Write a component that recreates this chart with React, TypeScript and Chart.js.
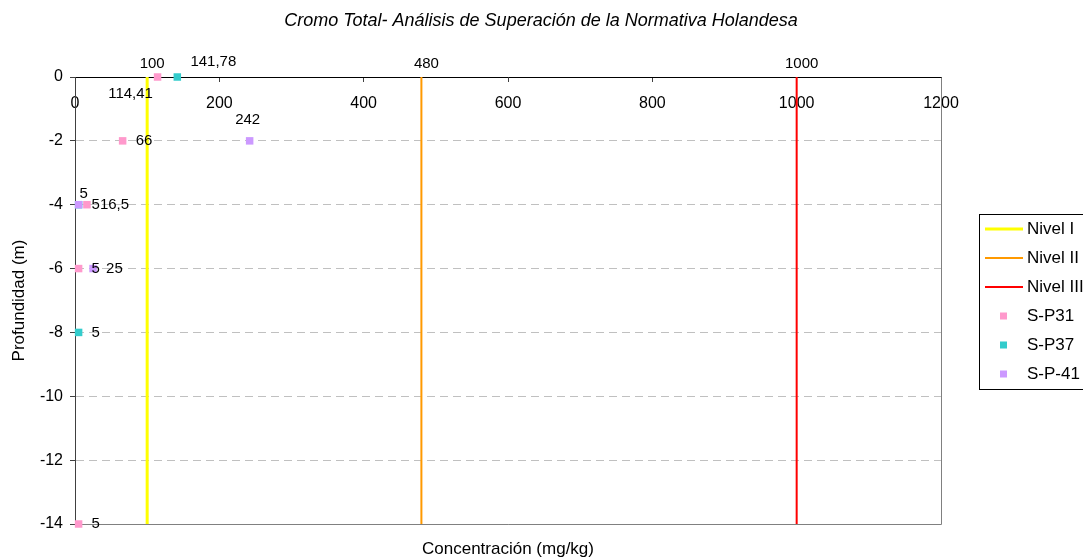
import React, { useEffect, useRef } from 'react';
import { Chart, registerables } from 'chart.js';

Chart.register(...registerables);

const FONT = '"Liberation Sans", Arial, Helvetica, sans-serif';

const chartTitle = 'Cromo Total- Análisis de Superación de la Normativa Holandesa';
const xAxisTitle = 'Concentración (mg/kg)';
const yAxisTitle = 'Profundidad (m)';

const xMin = 0;
const xMax = 1200;
const xStep = 200;
const yMin = -14;
const yMax = 0;
const yStep = 2;

// Normative levels (vertical lines)
const levelNames = ['Nivel I', 'Nivel II', 'Nivel III'];
const levelValues = [100, 480, 1000];
const levelColors = ['#ffff00', '#ff9900', '#ff0000'];
const levelWidths = [3, 2, 2];

// Samples
const sp31Conc = [114.41, 66, 16.5, 5, 5];
const sp31Depth = [0, -2, -4, -6, -14];
const sp37Conc = [141.78, 5, 5];
const sp37Depth = [0, -4, -8];
const sp41Conc = [242, 5, 25];
const sp41Depth = [-2, -4, -6];

const sampleNames = ['S-P31', 'S-P37', 'S-P-41'];
const sampleColors = ['#ff99cc', '#33cccc', '#cc99ff'];

// label placements (style only)
const sp31Place = ['belowLeft', 'right', 'right', 'right', 'right'];
const sp37Place = ['aboveRight', 'right', 'right'];
const sp41Place = ['above', 'aboveNear', 'right'];

const PLACES: Record<string, { align: CanvasTextAlign; dx: number; dy: number }> = {
  right: { align: 'left', dx: 13, dy: 0 },
  above: { align: 'center', dx: -2, dy: -21 },
  aboveNear: { align: 'center', dx: 5, dy: -11 },
  aboveRight: { align: 'center', dx: 36, dy: -15 },
  belowLeft: { align: 'center', dx: -27, dy: 17 },
  top: { align: 'center', dx: 5, dy: -13 },
};

const fmt = (v: number) => String(v).replace('.', ',');

const labelPlugin = {
  id: 'pointLabels',
  afterDatasetsDraw(chart: any) {
    const ctx = chart.ctx;
    ctx.save();
    ctx.font = `15px ${FONT}`;
    ctx.fillStyle = '#000';
    ctx.textBaseline = 'middle';
    chart.data.datasets.forEach((ds: any, i: number) => {
      const meta = chart.getDatasetMeta(i);
      if (!ds.labelPlaces) return;
      meta.data.forEach((el: any, j: number) => {
        const place = ds.labelPlaces[j];
        if (!place) return;
        const p = PLACES[place];
        ctx.textAlign = p.align;
        ctx.fillText(fmt(ds.data[j].x), el.x + p.dx, el.y + p.dy);
      });
    });
    ctx.restore();
  },
};

const framePlugin = {
  id: 'frameAndText',
  beforeDatasetsDraw(chart: any) {
    const { ctx, chartArea: a } = chart;
    ctx.save();
    ctx.strokeStyle = '#808080';
    ctx.lineWidth = 1;
    ctx.beginPath();
    ctx.moveTo(Math.round(a.left) + 0.5, Math.round(a.bottom) + 0.5);
    ctx.lineTo(Math.round(a.right) + 0.5, Math.round(a.bottom) + 0.5);
    ctx.lineTo(Math.round(a.right) + 0.5, Math.round(a.top) + 0.5);
    ctx.stroke();
    ctx.restore();
  },
  afterDraw(chart: any) {
    const { ctx, chartArea: a } = chart;
    ctx.save();
    ctx.fillStyle = '#000';
    // title
    ctx.font = `italic 18px ${FONT}`;
    ctx.textAlign = 'center';
    ctx.textBaseline = 'middle';
    ctx.fillText(chartTitle, 541, 21);
    // x title
    ctx.font = `17px ${FONT}`;
    ctx.fillText(xAxisTitle, (a.left + a.right) / 2, 549);
    // y title
    ctx.save();
    ctx.translate(19, (a.top + a.bottom) / 2);
    ctx.rotate(-Math.PI / 2);
    ctx.fillText(yAxisTitle, 0, 0);
    ctx.restore();
    // legend
    const lx = 979.5;
    const ly = 214.5;
    ctx.strokeStyle = '#000';
    ctx.lineWidth = 1;
    ctx.strokeRect(lx, ly, 130, 175);
    ctx.font = `17px ${FONT}`;
    ctx.textAlign = 'left';
    chart.data.datasets.forEach((ds: any, i: number) => {
      const y = 229 + i * 29;
      if (ds.showLine) {
        ctx.strokeStyle = ds.borderColor;
        ctx.lineWidth = ds.borderWidth;
        ctx.beginPath();
        ctx.moveTo(985, y);
        ctx.lineTo(1023, y);
        ctx.stroke();
      } else {
        ctx.fillStyle = ds.backgroundColor;
        ctx.fillRect(1000, y - 3.5, 7, 7);
      }
      ctx.fillStyle = '#000';
      ctx.fillText(ds.label, 1027, y);
    });
    ctx.restore();
  },
};

const toPoints = (xs: number[], ys: number[]) => xs.map((x, i) => ({ x, y: ys[i] }));

export default function App() {
  const ref = useRef<HTMLCanvasElement | null>(null);

  useEffect(() => {
    if (!ref.current) return;
    const levelSets = levelNames.map((name, i) => ({
      label: name,
      data: [
        { x: levelValues[i], y: yMax },
        { x: levelValues[i], y: yMin },
      ],
      showLine: true,
      borderColor: levelColors[i],
      backgroundColor: levelColors[i],
      borderWidth: levelWidths[i],
      pointRadius: 0,
      labelPlaces: ['top', null],
      order: 5 - i,
      clip: false,
    }));
    const samples = [
      [sp31Conc, sp31Depth, sp31Place],
      [sp37Conc, sp37Depth, sp37Place],
      [sp41Conc, sp41Depth, sp41Place],
    ].map(([xs, ys, pl], i) => ({
      label: sampleNames[i],
      data: toPoints(xs as number[], ys as number[]),
      showLine: false,
      backgroundColor: sampleColors[i],
      borderColor: sampleColors[i],
      borderWidth: 0,
      pointStyle: 'rect',
      pointRadius: 5.3,
      pointHoverRadius: 5.3,
      labelPlaces: pl,
      order: 2 - i,
      clip: false,
    }));

    const chart = new Chart(ref.current, {
      type: 'scatter',
      data: { datasets: [...levelSets, ...samples] as any },
      options: {
        responsive: false,
        animation: false,
        events: [],
        layout: { padding: { left: 15, top: 77, right: 142, bottom: 36 } },
        plugins: {
          legend: { display: false },
          title: { display: false },
          tooltip: { enabled: false },
        },
        scales: {
          x: {
            type: 'linear',
            min: xMin,
            max: xMax,
            position: { y: 0 } as any,
            ticks: {
              stepSize: xStep,
              color: '#000',
              font: { family: FONT, size: 16 },
              padding: 13,
              callback: (v: any) => String(v),
            },
            grid: {
              drawOnChartArea: false,
              drawTicks: true,
              tickLength: 4,
              color: '#404040',
            },
            border: { display: true, color: '#000', width: 1 },
          },
          y: {
            type: 'linear',
            min: yMin,
            max: yMax,
            position: 'left',
            afterFit: (s: any) => {
              s.width = 60;
            },
            ticks: {
              stepSize: yStep,
              color: '#000',
              font: { family: FONT, size: 16 },
              padding: 7,
              callback: (v: any) => String(v),
            },
            grid: {
              color: '#c0c0c0',
              tickColor: '#404040',
              tickLength: 5,
              tickBorderDash: [],
            },
            border: { display: true, color: '#404040', width: 1, dash: [8, 5] },
          },
        },
      } as any,
      plugins: [framePlugin, labelPlugin],
    });
    return () => chart.destroy();
  }, []);

  return (
    <div style={{ position: 'fixed', left: 0, top: 0, width: 1083, height: 560, background: '#fff' }}>
      <canvas ref={ref} width={1083} height={560} style={{ display: 'block' }} />
    </div>
  );
}
